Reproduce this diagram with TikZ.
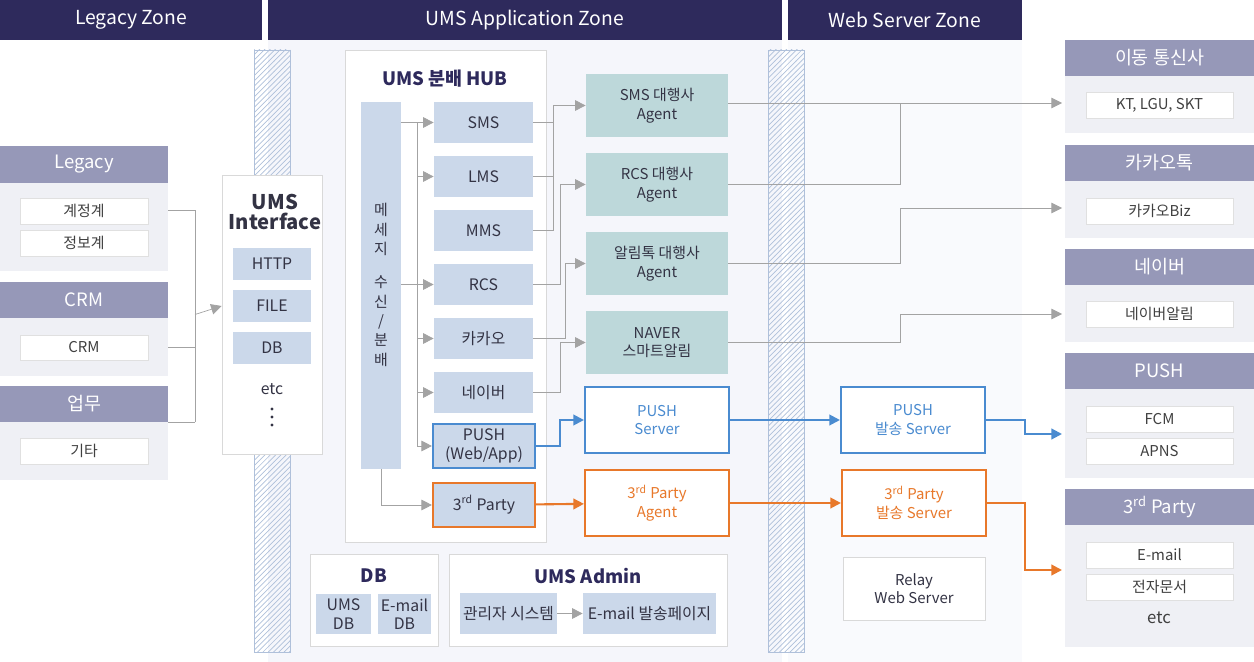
\documentclass[tikz,border=0pt]{standalone}
\usepackage{fontspec}
\setmainfont{Noto Sans CJK KR}
\usetikzlibrary{positioning, calc, fit, patterns, arrows.meta}
\definecolor{zonebar}{HTML}{2E2A5C}
\definecolor{cathd}{HTML}{9698B8}
\definecolor{catbg}{HTML}{EFF0F5}
\definecolor{appbg}{HTML}{F5F6FB}
\definecolor{msgblue}{HTML}{CBD8EA}
\definecolor{agentteal}{HTML}{BDD8DA}
\definecolor{pushblue}{HTML}{4A8BD0}
\definecolor{partyorange}{HTML}{E8782A}
\definecolor{arrgrey}{HTML}{A3A3A3}
\definecolor{txtdark}{HTML}{333344}
\definecolor{hatch}{HTML}{AFC0DA}
\tikzset{
  every node/.style={inner sep=0pt, text=txtdark},
  zonetext/.style={text=white, font=\fontsize{11}{13}\selectfont},
  cattext/.style={text=white, font=\fontsize{10.5}{12}\selectfont},
  itemtext/.style={font=\fontsize{8.5}{10}\selectfont, text=black!75},
  msgtext/.style={font=\fontsize{9}{10.5}\selectfont, text=txtdark, align=center},
  pushtext/.style={text=pushblue, font=\fontsize{8.5}{10.5}\selectfont, align=center},
  partytext/.style={text=partyorange, font=\fontsize{8.5}{10.5}\selectfont, align=center},
  zone/.style={fill=zonebar, label={[zonetext]center:#1}},
  cathead/.style={fill=cathd, label={[cattext]center:#1}},
  catbody/.style={fill=catbg},
  item/.style={fill=white, draw=black!12, label={[itemtext]center:#1}},
  frame/.style={fill=white, draw=black!15},
  msg/.style={fill=msgblue, label={[msgtext]center:#1}},
  agent/.style={fill=agentteal, label={[msgtext, font=\fontsize{8.5}{10.5}\selectfont]center:#1}},
  pushbox/.style={fill=white, draw=pushblue, line width=1.2pt, label={[pushtext]center:#1}},
  partybox/.style={fill=white, draw=partyorange, line width=1.2pt, label={[partytext]center:#1}},
  title/.style={font=\bfseries\fontsize{10.5}{12}\selectfont, text=zonebar, align=center},
  wall/.style={fill=white, pattern=north east lines, pattern color=hatch, draw=hatch},
  arrow/.style={->, >={Triangle[length=6pt, width=6pt]}, draw=arrgrey},
  line/.style={draw=arrgrey},
  bluearrow/.style={->, >={Triangle[length=6pt, width=6pt]}, draw=pushblue, line width=1.2pt},
  orangearrow/.style={->, >={Triangle[length=6pt, width=6pt]}, draw=partyorange, line width=1.2pt},
}
\begin{document}
\begin{tikzpicture}[x=0.02cm, y=-0.02cm]
    \useasboundingbox (0,0) rectangle (1254,662);
    % zones
    \fill[appbg] (268,40) rectangle (782,662);
    \fill[appbg!60] (788,40) rectangle (1022,662);
    \node[zone=Legacy Zone, fit={(0,0)(262,40)}] (zone-legacy) {};
    \node[zone=UMS Application Zone, fit={(268,0)(782,40)}] (zone-app) {};
    \node[zone=Web Server Zone, fit={(788,0)(1022,40)}] (zone-web) {};

    % walls
    \node[wall, fit={(254,50)(290,652)}] (wall-1) {};
    \node[wall, fit={(768,50)(804,652)}] (wall-2) {};

    % legacy side
    \node[catbody, fit={(0,183)(168,271)}] (legacy-body) {};
    \node[cathead=Legacy, fit={(0,146)(168,183)}] (legacy-head) {};
    \node[item=계정계, fit={(20,198)(148,224)}] (legacy-1) {};
    \node[item=정보계, fit={(20,230)(148,256)}] (legacy-2) {};
    \node[catbody, fit={(0,318)(168,376)}] (crm-body) {};
    \node[cathead=CRM, fit={(0,282)(168,318)}] (crm-head) {};
    \node[item=CRM, fit={(20,335)(148,360)}] (crm-1) {};
    \node[catbody, fit={(0,422)(168,480)}] (work-body) {};
    \node[cathead=업무, fit={(0,386)(168,422)}] (work-head) {};
    \node[item=기타, fit={(20,438)(148,464)}] (work-1) {};

    % interface
    \node[frame, fit={(222,175)(322,454)}] (iface) {};
    \node[title, text=txtdark, font=\bfseries\fontsize{11.5}{13}\selectfont] (iface-title) at (275,212) {UMS\\[-2pt]Interface};
    \foreach \l/\t [count=\i from 0] in {http/HTTP, file/FILE, db/DB}
    \node[msg=\t, fit={(233,248+\i*42)(311,280+\i*42)}] (if-\l) {};
    \node[font=\fontsize{9}{10}\selectfont] (if-etc) at (272,389) {etc};
    \foreach \d in {409,417,425}
    \fill[txtdark] (272,\d) circle (1.7);

    % hub
    \node[frame, fit={(345,50)(546,542)}] (hub) {};
    \node[title] (hub-title) at (445,79) {UMS 분배 HUB};
    \node[msg, fit={(361,102)(401,469)}] (recv) {};
    \node[font=\fontsize{8.5}{11}\selectfont, align=center] (recv-text) at (381,285) {메\\세\\지\\[8pt]수\\신\\/\\분\\배};
    \foreach \l/\t [count=\i from 0] in {sms/SMS, lms/LMS, mms/MMS, rcs/RCS, kakao/카카오, naver/네이버}
    \node[msg=\t, fit={(434,102+\i*54)(533,143+\i*54)}] (\l) {};
    \node[msg={PUSH\\(Web/App)}, draw=pushblue, line width=1.2pt, fit={(433,424)(535,468)}] (push-app) {};
    \node[msg={3\textsuperscript{rd} Party}, draw=partyorange, line width=1.2pt, fit={(433,483)(535,527)}] (party) {};

    % agents
    \node[agent={SMS 대행사\\Agent}, fit={(586,74)(728,137)}] (sms-agent) {};
    \node[agent={RCS 대행사\\Agent}, fit={(586,153)(728,216)}] (rcs-agent) {};
    \node[agent={알림톡 대행사\\Agent}, fit={(586,232)(728,295)}] (alim-agent) {};
    \node[agent={NAVER\\스마트알림}, fit={(586,311)(728,374)}] (naver-agent) {};
    \node[pushbox={PUSH\\Server}, fit={(585,387)(729,453)}] (push-server) {};
    \node[partybox={3\textsuperscript{rd} Party\\Agent}, fit={(585,470)(729,536)}] (party-agent) {};

    % db / admin
    \node[frame, fit={(310,554)(438,646)}] (db) {};
    \node[title] (db-title) at (374,576) {DB};
    \node[msg={UMS\\DB}, fit={(316,594)(371,634)}] (ums-db) {};
    \node[msg={E-mail\\DB}, fit={(378,594)(431,634)}] (mail-db) {};
    \node[frame, fit={(449,554)(727,646)}] (admin) {};
    \node[title] (admin-title) at (588,576) {UMS Admin};
    \node[msg=관리자 시스템, fit={(460,593)(557,634)}] (admin-sys) {};
    \node[msg=E-mail 발송페이지, fit={(583,593)(716,634)}] (admin-mail) {};

    % web server zone
    \node[pushbox={PUSH\\발송 Server}, fit={(841,387)(985,453)}] (push-send) {};
    \node[partybox={3\textsuperscript{rd} Party\\발송 Server}, fit={(842,470)(986,536)}] (party-send) {};
    \node[frame, label={[msgtext, font=\fontsize{8.5}{10.5}\selectfont]center:Relay\\Web Server}, fit={(843,557)(985,620)}] (relay) {};

    % targets
    \foreach \n/\t/\a/\b in {telco/이동 통신사/40/133, talk/카카오톡/145/238, nvr/네이버/249/342, push/PUSH/353/478, third/{3\textsuperscript{rd} Party}/489/647}
    {
      \node[catbody, fit={(1065,\a)(1254,\b)}] (\n-body) {};
      \node[cathead=\t, fit={(1065,\a)(1254,\a+36)}] (\n-head) {};
    }
    \node[item={KT, LGU, SKT}, fit={(1086,92)(1233,118)}] (telco-1) {};
    \node[item=카카오Biz, fit={(1086,198)(1233,224)}] (talk-1) {};
    \node[item=네이버알림, fit={(1086,301)(1233,327)}] (nvr-1) {};
    \node[item=FCM, fit={(1086,406)(1233,432)}] (push-1) {};
    \node[item=APNS, fit={(1086,438)(1233,464)}] (push-2) {};
    \node[item=E-mail, fit={(1086,542)(1233,568)}] (third-1) {};
    \node[item=전자문서, fit={(1086,574)(1233,600)}] (third-2) {};
    \node[font=\fontsize{9.5}{10}\selectfont, text=black!75] (third-etc) at (1159,618) {etc};

    % junctions
    \coordinate (j-leg) at (195,0);
    \coordinate (j-hub) at (417,0);
    \coordinate (j-1) at (553,0);
    \coordinate (j-2) at (560,0);
    \coordinate (j-3) at (565,0);
    \coordinate (j-out) at (900,0);
    \coordinate (j-web) at (1025,0);
    \coordinate (push-in) at (1062,434);
    \coordinate (third-in) at (1062,570);
    \coordinate (telco-in) at (1062,103);
    \coordinate (talk-in) at (1062,208);
    \coordinate (nvr-in) at (1062,314);

    % legacy -> interface
    \draw[line] ($(legacy-body.east)+(0,-17)$) -| (j-leg |- work-head.south);
    \draw[line] (crm-1 -| crm-body.east) -- (j-leg |- crm-1);
    \draw[line] (work-head.south east) -- (j-leg |- work-head.south);
    \draw[arrow] (j-leg |- iface.center) -- (iface.west |- if-file.center);

    % hub inner
    \draw[arrow] (recv.east |- sms) -- (sms);
    \draw[line] (j-hub |- sms) -- (j-hub |- push-app);
    \foreach \b in {lms, kakao, naver, push-app}
    \draw[arrow] (j-hub |- \b) -- (\b);
    \draw[arrow] (recv.east |- rcs) -- (rcs);
    \draw[arrow] (recv.south) |- (party);

    % hub -> agents
    \draw[arrow] (sms) -| (j-1 |- sms-agent) -- (sms-agent);
    \draw[line] (lms) -- (j-1 |- lms);
    \draw[line] (mms) -| (j-1 |- sms);
    \draw[arrow] (rcs) -| (j-2 |- rcs-agent) -- (rcs-agent);
    \draw[arrow] (kakao) -| (j-3 |- alim-agent) -- (alim-agent);
    \draw[arrow] (naver) -| (j-2 |- naver-agent) -- (naver-agent);
    \draw[bluearrow] (push-app) -| (j-2 |- push-server) -- (push-server);
    \draw[orangearrow] (party) -- (party-agent);
    \draw[arrow] (admin-sys) -- (admin-mail);

    % agents -> targets
    \draw[arrow] (sms-agent.east |- telco-in) -- (telco-in);
    \draw[line] (rcs-agent) -| (j-out |- telco-in);
    \draw[arrow] (alim-agent) -| (j-out |- talk-in) -- (talk-in);
    \draw[arrow] (naver-agent) -| (j-out |- nvr-in) -- (nvr-in);
    \draw[bluearrow] (push-server) -- (push-send);
    \draw[orangearrow] (party-agent) -- (party-send);
    \draw[bluearrow] (push-send) -| (j-web |- push-in) -- (push-in);
    \draw[orangearrow] (party-send) -| (j-web |- third-in) -- (third-in);
\end{tikzpicture}
\end{document}
